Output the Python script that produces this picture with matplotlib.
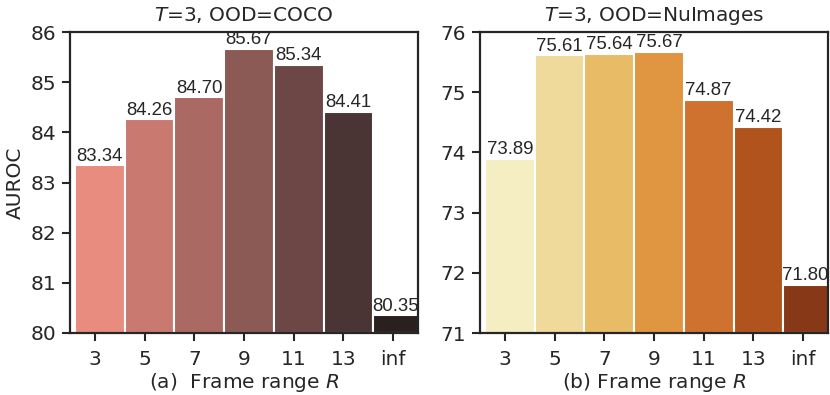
import matplotlib
matplotlib.use("Agg")
import matplotlib.pyplot as plt
import seaborn as sns

sns.set_theme(style="ticks")
plt.rcParams['font.family'] = ['DejaVu Sans']
plt.rcParams['mathtext.fontset'] = 'dejavusans'

categories = ["3", "5", "7", "9", "11", "13", "inf"]
coco_vals = [83.34, 84.26, 84.70, 85.67, 85.34, 84.41, 80.35]
nu_vals = [73.89, 75.61, 75.64, 75.67, 74.87, 74.42, 71.80]

coco_colors = ["#E88C80", "#C97970", "#AA6A63", "#8B5A55", "#6C4745", "#4A3534", "#2A2020"]
nu_colors = ["#F5EEC2", "#EFDA9B", "#E8BC66", "#E09541", "#CF7230", "#B0531C", "#873817"]

fig = plt.figure(figsize=(8.3, 3.95), dpi=100)
W, H = 830, 395
ax1 = fig.add_axes([70 / W, (H - 333) / H, 348 / W, 301 / H])
ax2 = fig.add_axes([480 / W, (H - 333) / H, 348 / W, 301 / H])

panels = [
    (ax1, coco_vals, coco_colors, (80, 86), "$T$=3, OOD=COCO", "(a)  Frame range $R$"),
    (ax2, nu_vals, nu_colors, (71, 76), "$T$=3, OOD=NuImages", "(b) Frame range $R$"),
]

XMIN, XMAX = -0.5, 6.5
for ax, vals, cols, ylim, title, xlabel in panels:
    xs = [i + 0.1 for i in range(len(categories))]
    ax.bar(xs, [v - ylim[0] for v in vals], bottom=ylim[0], width=1.0,
           color=cols, edgecolor="white", linewidth=1.5)
    for x, v in zip(xs, vals):
        left, right = max(x - 0.5, XMIN), min(x + 0.5, XMAX)
        ax.annotate(f"{v:.2f}", xy=((left + right) / 2, v), xytext=(0, 0.5),
                    textcoords="offset points", ha="center", va="bottom",
                    fontsize=13.4, family="Liberation Sans", color="#262626")
    ax.set_xlim(XMIN, XMAX)
    ax.set_ylim(*ylim)
    ax.set_xticks(range(len(categories)))
    ax.set_xticklabels(categories)
    ax.set_yticks(range(ylim[0], ylim[1] + 1))
    ax.tick_params(labelsize=14.5, length=6, width=1.5, color="#262626", pad=4)
    ax.tick_params(axis="x", pad=6.5)
    for s in ax.spines.values():
        s.set_linewidth(1.6)
        s.set_color("#262626")
    ax.set_title(title, fontsize=14.5, pad=8)
    ax.set_xlabel(xlabel, fontsize=14.5, labelpad=1)

ax1.set_ylabel("AUROC", fontsize=14.5, labelpad=4)

fig.savefig("out.png", dpi=100)
